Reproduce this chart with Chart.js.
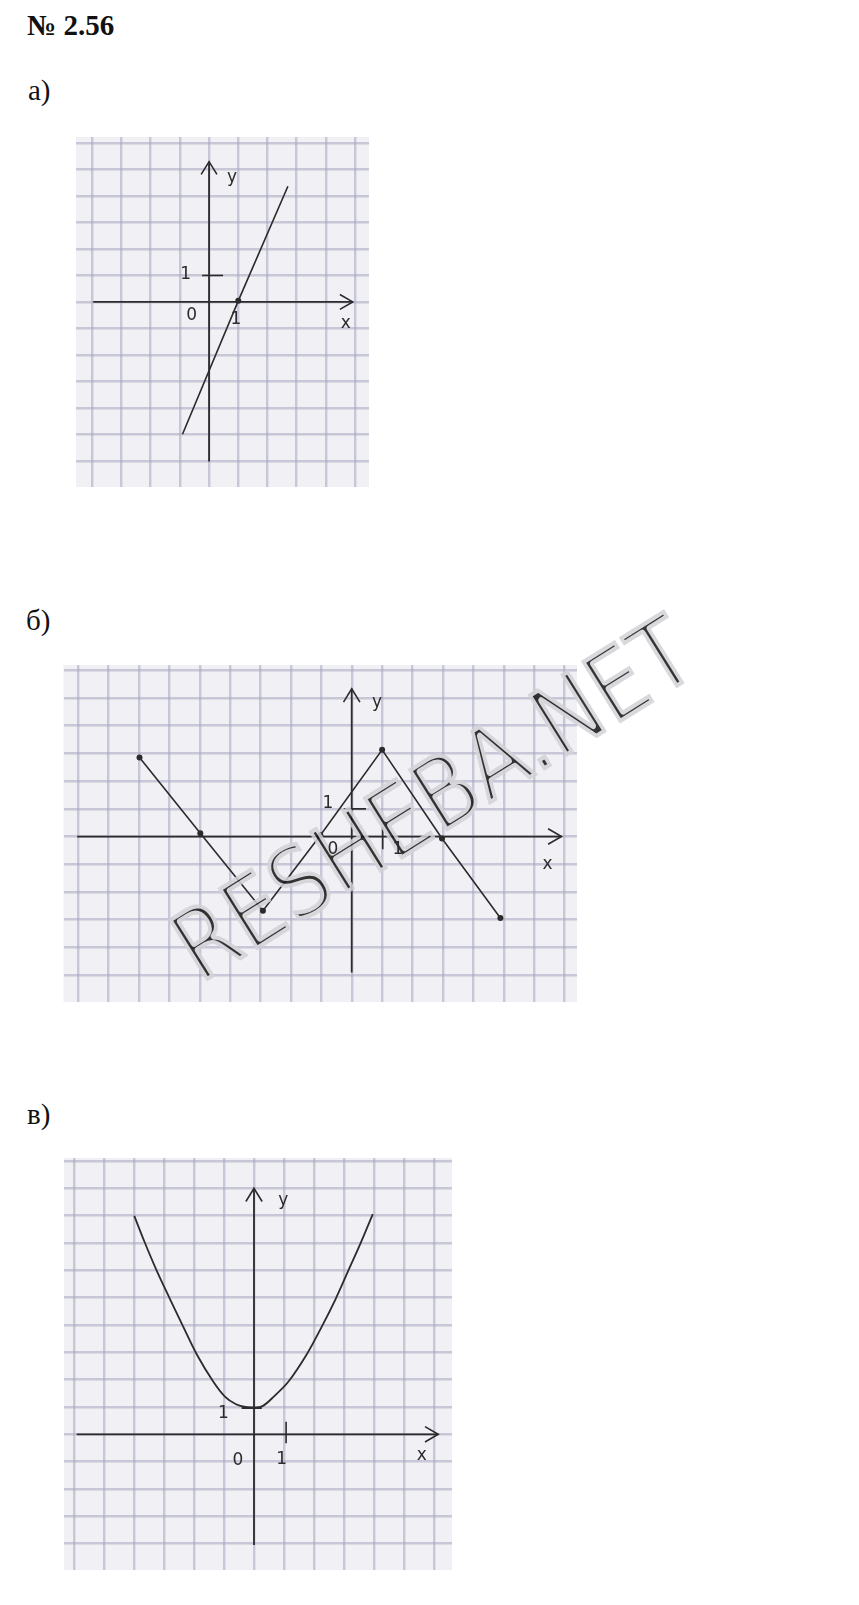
<!DOCTYPE html>
<html>
<head>
<meta charset="utf-8">
<script src="https://cdn.jsdelivr.net/npm/chart.js@4.4.0/dist/chart.umd.min.js"></script>
<style>
  body { margin: 0; background: #fff; width: 859px; height: 1605px; position: relative; overflow: hidden; }
  .hd { position: absolute; margin: 0; line-height: 1; color: #111; font-family: "Liberation Serif", "Times New Roman", serif; font-size: 29px; }
  canvas { position: absolute; }
</style>
</head>
<body>
<div class="hd" style="left:27px; top:11px; font-weight:bold;">№ 2.56</div>
<div class="hd" style="left:28px; top:76px;">а)</div>
<div class="hd" style="left:26px; top:606px;">б)</div>
<div class="hd" style="left:27px; top:1100px;">в)</div>

<canvas id="chartA" width="301" height="358" style="left:72px; top:133px;"></canvas>
<canvas id="chartB" width="760" height="420" style="left:0px; top:590px;"></canvas>
<canvas id="chartC" width="388" height="412" style="left:64px; top:1158px;"></canvas>

<script>
// а) straight line through (1, 0)
const aLineX = [-0.91, 1, 2.7];
const aLineY = [-5.0, 0.04, 4.37];
const aDotX = [1];
const aDotY = [0.04];
const aAxisX = [-3.97, 4.92];
const aAxisY = [-6.03, 5.3];
const aTickY = [-0.24, 0.48];          // dash at y = 1
const aLabels = ['1', '0', '1', 'x', 'y'];
const aLabelX = [-0.8, -0.6, 0.92, 4.68, 0.79];
const aLabelY = [1.05, -0.52, -0.68, -0.83, 4.68];

// б) broken line with dots
const bX = [-6.98, -4.98, -2.92, -1.03, 1.0, 2.97, 4.89];
const bY = [2.85, 0.12, -2.68, 0.05, 3.13, -0.07, -2.94];
const bAxisX = [-9.03, 6.9];
const bAxisY = [-4.91, 5.33];
const bTickY = [-0.26, 0.47];          // dash at y = 1
const bTickX = [0.33, -0.46];          // dash at x = 1
const bLabels = ['1', '0', '1', 'x', 'y'];
const bLabelX = [-0.78, -0.62, 1.52, 6.44, 0.83];
const bLabelY = [1.18, -0.46, -0.46, -1.01, 4.84];

// в) parabola with vertex (0, 1)
const cX = [-3.99, -3.63, -3.24, -2.8, -2.36, -1.91, -1.36, -0.97, -0.6, -0.25, 0.05, 0.3, 0.66, 1.15, 1.76, 2.26, 2.72, 3.14, 3.55, 3.96];
const cY = [7.99, 6.99, 5.98, 4.95, 3.94, 2.93, 1.93, 1.38, 1.1, 0.99, 0.97, 1.04, 1.38, 1.93, 2.93, 3.94, 4.95, 5.98, 6.99, 8.06];
const cAxisX = [-5.91, 6.14];
const cAxisY = [-4.05, 9.0];
const cTickY = [-0.41, 0.26];          // dash at y = 1
const cTickX = [0.46, -0.33];          // dash at x = 1
const cLabels = ['1', '0', '1', 'x', 'y'];
const cLabelX = [-1.02, -0.54, 0.92, 5.59, 0.98];
const cLabelY = [0.77, -0.96, -0.94, -0.79, 8.57];

const ink = '#2b2b2b';
const paper = '#f0f0f5';
const gridColor = 'rgba(165,165,192,0.55)';

function pts(xs, ys) {
    return xs.map((x, i) => ({ x: x, y: ys[i] }));
}

function seg(data, w) {
    return { data: data, showLine: true, borderColor: ink, borderWidth: w, pointRadius: 0, tension: 0 };
}

function axes(ax, ay) {
    let xt = ax[1], yt = ay[1];
    return [
        seg([{ x: ax[0], y: 0 }, { x: xt, y: 0 }], 1.8),
        seg([{ x: xt - 0.44, y: 0.28 }, { x: xt, y: 0 }, { x: xt - 0.44, y: -0.28 }], 1.6),
        seg([{ x: 0, y: ay[0] }, { x: 0, y: yt }], 1.8),
        seg([{ x: -0.27, y: yt - 0.48 }, { x: 0, y: yt }, { x: 0.27, y: yt - 0.48 }], 1.6),
    ];
}

const paperPlugin = {
    id: 'paper',
    beforeDraw(chart) {
        let a = chart.chartArea;
        chart.ctx.save();
        chart.ctx.fillStyle = paper;
        chart.ctx.fillRect(a.left, a.top, a.right - a.left, a.bottom - a.top);
        chart.ctx.restore();
    }
};

// one layer of the watermark text, drawn on its own canvas
function markLayer(w, h, paint) {
    let c = document.createElement('canvas');
    c.width = w;
    c.height = h;
    let o = c.getContext('2d');
    let word = 'RESHEBA.NET';
    o.font = '400 99px "DejaVu Sans", sans-serif';
    let tw = o.measureText(word).width;
    o.save();
    o.translate(200, 395);
    o.rotate(-32 * Math.PI / 180);
    o.scale(592 / tw, 1);
    o.textAlign = 'left';
    o.textBaseline = 'alphabetic';
    o.lineJoin = 'round';
    paint(o, word);
    o.restore();
    return c;
}

const notesPlugin = {
    id: 'notes',
    afterDraw(chart, args, opts) {
        let ctx = chart.ctx, sx = chart.scales.x, sy = chart.scales.y;
        ctx.save();
        if (opts.mark) {
            // grey glyph body, then a thin dark centre line cut out of a black copy
            let halo = markLayer(chart.width, chart.height, (o, word) => {
                o.fillStyle = '#d2d2d7';
                o.strokeStyle = '#d2d2d7';
                o.lineWidth = 1.5;
                o.fillText(word, 0, 0);
                o.strokeText(word, 0, 0);
            });
            let core = markLayer(chart.width, chart.height, (o, word) => {
                o.fillStyle = '#111';
                o.fillText(word, 0, 0);
                o.globalCompositeOperation = 'destination-out';
                o.lineWidth = 7;
                o.strokeText(word, 0, 0);
            });
            halo.getContext('2d').drawImage(core, 0, 0);
            ctx.globalAlpha = 0.85;
            ctx.drawImage(halo, 0, 0);
            ctx.globalAlpha = 1;
        }
        ctx.font = '17px "DejaVu Sans", sans-serif';
        ctx.fillStyle = ink;
        ctx.textAlign = 'center';
        ctx.textBaseline = 'middle';
        for (let i = 0; i < opts.text.length; i++) {
            ctx.fillText(opts.text[i], sx.getPixelForValue(opts.x[i]), sy.getPixelForValue(opts.y[i]));
        }
        ctx.restore();
    }
};

function makeChart(id, datasets, range, pad, notes) {
    let grid = { color: gridColor, lineWidth: 2.4, drawTicks: false };
    let ticks = { display: false, stepSize: 1, includeBounds: false };
    return new Chart(document.getElementById(id), {
        type: 'scatter',
        data: { datasets: datasets },
        options: {
            responsive: false,
            animation: false,
            devicePixelRatio: 1,
            layout: { padding: pad },
            plugins: {
                legend: { display: false },
                tooltip: { enabled: false },
                notes: notes,
            },
            scales: {
                x: { type: 'linear', min: range[0], max: range[1], ticks: ticks, grid: grid, border: { display: false } },
                y: { type: 'linear', min: range[2], max: range[3], ticks: ticks, grid: grid, border: { display: false } },
            },
        },
        plugins: [paperPlugin, notesPlugin],
    });
}

// а)
makeChart('chartA',
    axes(aAxisX, aAxisY).concat([
        seg([{ x: aTickY[0], y: 1 }, { x: aTickY[1], y: 1 }], 1.6),
        seg(pts(aLineX, aLineY), 1.6),
        { data: pts(aDotX, aDotY), pointRadius: 3, pointBackgroundColor: ink, pointBorderWidth: 0, showLine: false },
    ]),
    [-4.557, 5.477, -6.993, 6.232],
    0,
    { text: aLabels, x: aLabelX, y: aLabelY, mark: false });

// б)
makeChart('chartB',
    axes(bAxisX, bAxisY).concat([
        seg([{ x: bTickY[0], y: 1 }, { x: bTickY[1], y: 1 }], 1.6),
        seg([{ x: 1.02, y: bTickX[0] }, { x: 1.02, y: bTickX[1] }], 1.6),
        { data: pts(bX, bY), showLine: true, borderColor: ink, borderWidth: 1.6, tension: 0,
          pointRadius: 3, pointBackgroundColor: ink, pointBorderWidth: 0 },
    ]),
    [-9.48, 7.41, -5.97, 6.19],
    { left: 63.5, right: 183, top: 75, bottom: 8 },
    { text: bLabels, x: bLabelX, y: bLabelY, mark: true });

// в)
makeChart('chartC',
    axes(cAxisX, cAxisY).concat([
        seg([{ x: cTickY[0], y: 0.97 }, { x: cTickY[1], y: 0.97 }], 2.4),
        seg([{ x: 1.07, y: cTickX[0] }, { x: 1.07, y: cTickX[1] }], 1.6),
        { data: pts(cX, cY), showLine: true, borderColor: ink, borderWidth: 1.8, tension: 0.35, pointRadius: 0 },
    ]),
    [-6.333, 6.6, -4.965, 10.11],
    0,
    { text: cLabels, x: cLabelX, y: cLabelY, mark: false });
</script>
</body>
</html>
